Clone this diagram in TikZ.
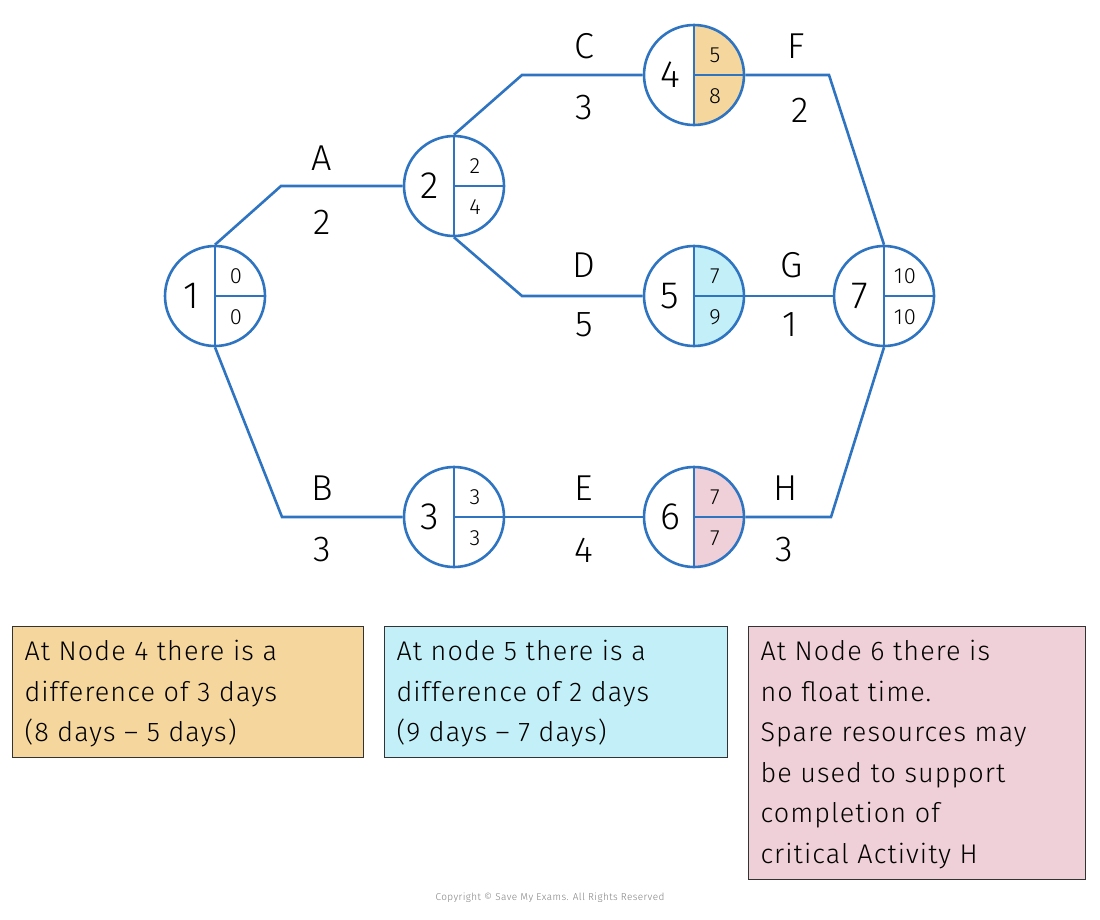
\documentclass[tikz,border=0pt]{standalone}
\usepackage{fontspec}
\usetikzlibrary{calc}
\setmainfont{Fira Sans Light}[BoldFont=Fira Sans,LetterSpace=4]
\begin{document}
\begin{tikzpicture}[x=1pt,y=-1pt,
  ln/.style={draw=lblue,line width=2.6pt},
  ev/.style={circle,ln,minimum size=100pt,inner sep=0pt},
  lab/.style={font=\fontsize{36}{40}\selectfont},
  big/.style={font=\fontsize{38}{40}\selectfont},
  sm/.style={font=\fontsize{22}{24}\selectfont},
  box/.style={draw=black!80,line width=1pt,anchor=north west,align=left,inner sep=10pt,font=\fontsize{27}{40.5}\selectfont}]
\definecolor{lblue}{HTML}{2F74C0}
\definecolor{org}{HTML}{F5D79E}
\definecolor{cya}{HTML}{C3F0F8}
\definecolor{pnk}{HTML}{F0D0D8}
\useasboundingbox (0,0) rectangle (1100,919);
% fills
\foreach \x/\y/\c in {694/75/org,694/296/cya,694/517/pnk}{
  \begin{scope}\clip (\x,\y) circle (50);\fill[\c] (\x,\y-50) rectangle (\x+50,\y+50);\end{scope}}
\node[ev] (n1) at (215,296) {};
\node[ev] (n2) at (454,186) {};
\node[ev] (n3) at (454,517) {};
\node[ev] (n4) at (694,75) {};
\node[ev] (n5) at (694,296) {};
\node[ev] (n6) at (694,517) {};
\node[ev] (n7) at (884,296) {};
\foreach \n/\a/\b/\k in {n1/0/0/1,n2/2/4/2,n3/3/3/3,n4/5/8/4,n5/7/9/5,n6/7/7/6,n7/10/10/7}{
  \draw[ln] (\n.north) -- (\n.south);
  \draw[ln] (\n.center) -- (\n.east);
  \node[big] at ($(\n.center)+(-24,0)$) {\k};
  \node[sm] at ($(\n.center)+(21,-20)$) {\a};
  \node[sm] at ($(\n.center)+(21,21)$) {\b};
}
% edges
\draw[ln] (n1.north) -- (281,186) -- (n2.west);
\draw[ln] (n2.north) -- (522,75) -- (n4.west);
\draw[ln] (n2.south) -- (522,296) -- (n5.west);
\draw[ln] (n1.south) -- (282,517) -- (n3.west);
\draw[ln] (n3.east) -- (n6.west);
\draw[ln] (n4.east) -- (829,75) -- (n7.north);
\draw[ln] (n5.east) -- (n7.west);
\draw[ln] (n6.east) -- (831,517) -- (n7.south);
% labels
\node[lab] (lA) at (322,158) {A}; \node[lab] (dA) at (322,222) {2};
\node[lab] (lC) at (584,46) {C}; \node[lab] (dC) at (584,108) {3};
\node[lab] (lD) at (584,265) {D}; \node[lab] (dD) at (584,325) {5};
\node[lab] (lB) at (322,488) {B}; \node[lab] (dB) at (322,550) {3};
\node[lab] (lE) at (584,488) {E}; \node[lab] (dE) at (584,550) {4};
\node[lab] (lF) at (796,46) {F}; \node[lab] (dF) at (800,110) {2};
\node[lab] (lG) at (792,265) {G}; \node[lab] (dG) at (790,325) {1};
\node[lab] (lH) at (786,488) {H}; \node[lab] (dH) at (784,550) {3};
% boxes
\fill[org] (12,626) rectangle (363,757); \draw[black!80,line width=1pt] (12,626) rectangle (363,757);
\fill[cya] (384,626) rectangle (727,757); \draw[black!80,line width=1pt] (384,626) rectangle (727,757);
\fill[pnk] (748,626) rectangle (1085,879); \draw[black!80,line width=1pt] (748,626) rectangle (1085,879);
\node[box,draw=none] (b1) at (14,630) {At Node 4 there is a\\difference of 3 days\\(8 days -- 5 days)};
\node[box,draw=none] (b2) at (386,630) {At node 5 there is a\\difference of 2 days\\(9 days -- 7 days)};
\node[box,draw=none] (b3) at (750,630) {At Node 6 there is\\no float time.\\Spare resources may\\be used to support\\completion of\\critical Activity H};
\node[font=\fontsize{10}{12}\selectfont,text=black!50] (cp) at (550,898) {Copyright © Save My Exams. All Rights Reserved};
\end{tikzpicture}
\end{document}
